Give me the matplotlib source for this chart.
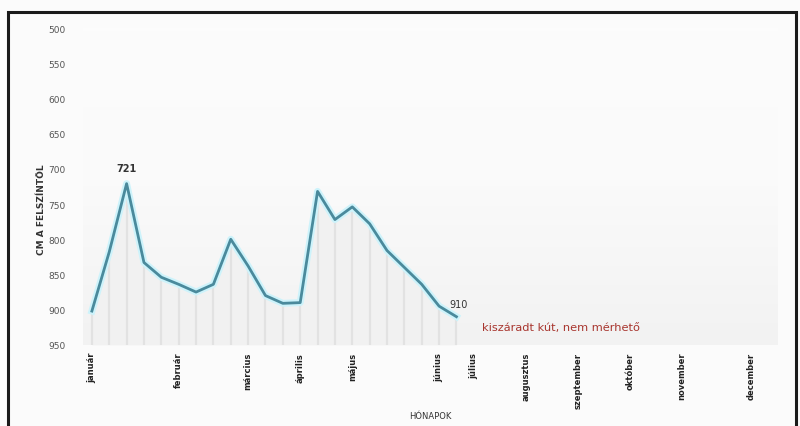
import matplotlib.pyplot as plt
import matplotlib.patches as patches
from matplotlib.colors import LinearSegmentedColormap
import numpy as np

# water level, cm below surface (one value per measurement)
levels = [902, 818, 721, 833, 854, 864, 875, 864, 800, 838, 880, 891,
          890, 732, 772, 754, 778, 816, 840, 864, 895, 910]
months = ['január', 'február', 'március', 'április', 'május', 'június',
          'július', 'augusztus', 'szeptember', 'október', 'november', 'december']
month_pos = [0, 5, 9, 12, 15, 20, 22, 25, 28, 31, 34, 38]
y_ticks = [500, 550, 600, 650, 700, 750, 800, 850, 900, 950]
note = 'kiszáradt kút, nem mérhető'

x = np.arange(len(levels))

fig = plt.figure(figsize=(8, 4.27), dpi=100)
fig.patch.set_facecolor('#fbfbfb')
fig.patches.append(patches.Rectangle((8 / 800, -0.01), 788 / 800, 1 - 13 / 427 + 0.01,
                                     transform=fig.transFigure, fill=False,
                                     edgecolor='#1a1a1a', linewidth=2.2))

ax = fig.add_axes([0.104, 0.19, 0.868, 0.742])
ax.set_facecolor('#fbfbfb')

# soft background gradient, grey towards the bottom
grad = np.linspace(0, 1, 100).reshape(-1, 1)
bg = LinearSegmentedColormap.from_list('bg', ['#fcfcfc', '#fafafa', '#f2f2f2'])
ax.imshow(grad, extent=[0, 1, 0, 1], transform=ax.transAxes, aspect='auto',
          cmap=bg, zorder=0)

ax.fill_between(x, levels, 950, color='#f1f1f1', zorder=1, linewidth=0)
ax.vlines(x, levels, 950, color='#e2e2e2', linewidth=1.6, zorder=2)

ax.plot(x, levels, color='#cdf3fb', linewidth=5, zorder=3)
ax.plot(x, levels, color='#4a8a9c', linewidth=2, zorder=4)

ax.text(x[2], levels[2] - 15, str(levels[2]), ha='center', va='bottom',
        fontsize=7, fontweight='bold', color='#333333')
ax.text(x[-1] + 0.1, levels[-1] - 11, str(levels[-1]), ha='center', va='bottom',
        fontsize=7, color='#333333')
ax.text(x[-1] + 1.5, levels[-1] + 14, note, ha='left', va='center',
        fontsize=8.2, color='#a8352e')

ax.set_xlim(-0.5, 39.5)
ax.set_ylim(950, 500)
ax.set_yticks(y_ticks)
ax.set_yticklabels([str(v) for v in y_ticks], fontsize=6.5, color='#555555')
ax.set_xticks(month_pos)
ax.set_xticklabels(months, rotation=90, fontsize=6, fontweight='bold',
                   color='#222222', va='top')
ax.tick_params(axis='x', length=0, pad=5)
ax.tick_params(axis='y', length=0, pad=13)
for s in ax.spines.values():
    s.set_visible(False)

ax.set_ylabel('CM A FELSZÍNTŐL', fontsize=6.5, fontweight='bold', color='#333333')
ax.yaxis.set_label_coords(-0.054, 0.43)
ax.set_xlabel('HÓNAPOK', fontsize=6, color='#333333', labelpad=2)

fig.savefig('out.png', dpi=100, facecolor=fig.get_facecolor())
